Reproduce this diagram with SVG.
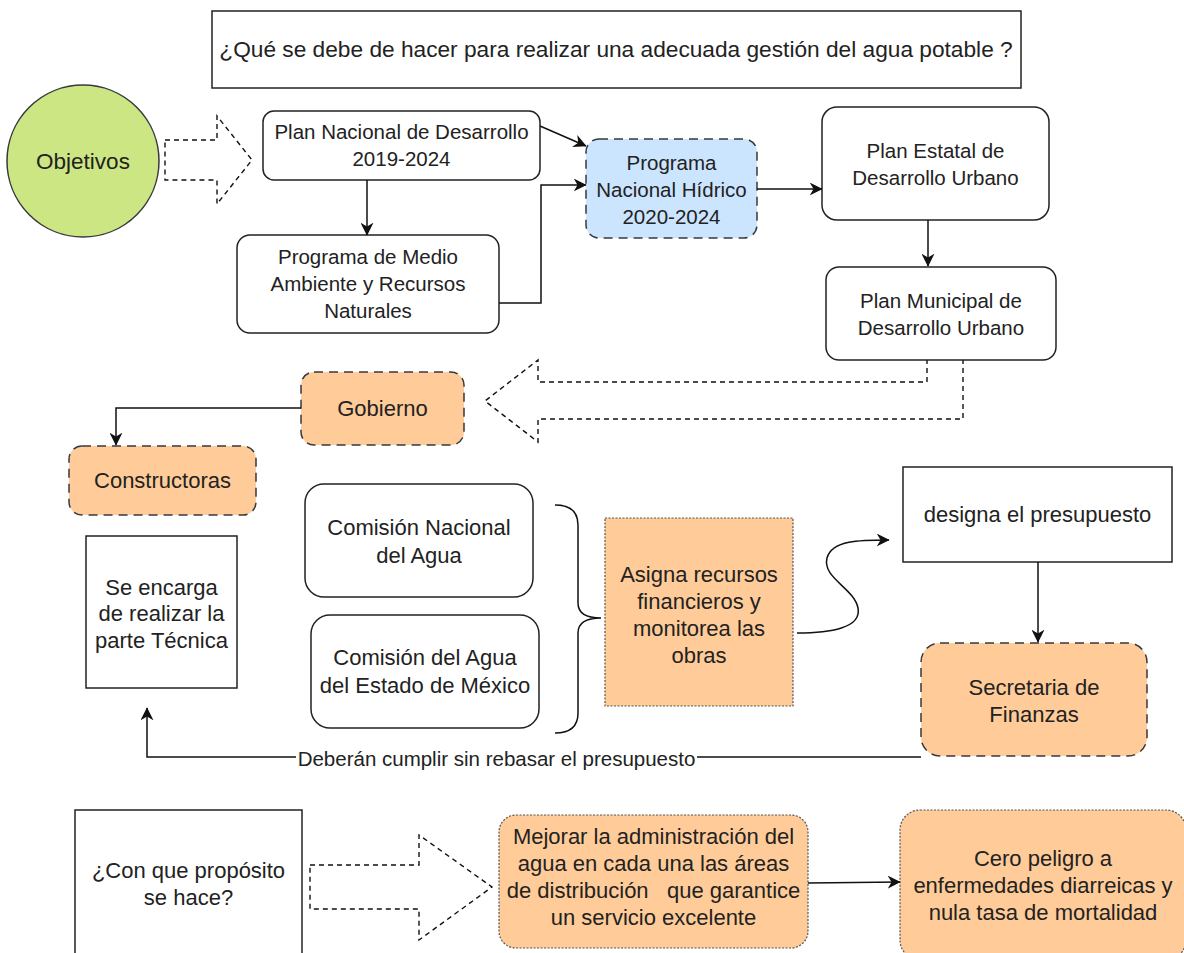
<svg xmlns="http://www.w3.org/2000/svg" width="1184" height="953" viewBox="0 0 1184 953">
<style>
text{font-family:"Liberation Sans",Arial,sans-serif;fill:#222;text-anchor:middle}
.f20{font-size:20.5px}
.f22{font-size:22px}
.box{fill:#fff;stroke:#222;stroke-width:1.5}
.org{fill:#ffcc99;stroke:#36393d;stroke-width:1.5;stroke-dasharray:9 6}
.blu{fill:#cce5ff;stroke:#36393d;stroke-width:1.5;stroke-dasharray:9 6}
.dot{fill:#ffcc99;stroke:#555;stroke-width:1.2;stroke-dasharray:2 1.5}
.blk{fill:#fff;stroke:#111;stroke-width:1.4;stroke-dasharray:5 4}
.con{fill:none;stroke:#111;stroke-width:1.5}
</style>
<defs>
<marker id="ah" viewBox="0 0 10 10" markerWidth="13" markerHeight="13" refX="9.5" refY="5" orient="auto" markerUnits="userSpaceOnUse">
<path d="M0,0 L10,5 L0,10 L3,5 z" fill="#111"/>
</marker>
</defs>
<rect width="1184" height="953" fill="#fff"/>

<g id="title">
<rect class="box" x="212" y="11" width="809" height="77"/>
<text x="616" y="57" font-size="22.7">¿Qué se debe de hacer para realizar una adecuada gestión del agua potable ?</text>
</g>

<g id="objetivos">
<circle cx="83" cy="161" r="76" fill="#cde684" stroke="#36393d" stroke-width="1.5"/>
<text x="83" y="169" font-size="22.5">Objetivos</text>
</g>

<g id="arrow-objetivos">
<polygon class="blk" points="165,140 217,140 217,116 252,160 217,204 217,180 165,180"/>
</g>

<g id="plan-nacional">
<rect class="box" x="263" y="111" width="277" height="69" rx="11"/>
<text class="f20" x="401.5" y="139">Plan Nacional de Desarrollo</text>
<text class="f20" x="401.5" y="166">2019-2024</text>
</g>

<g id="medio-ambiente">
<rect class="box" x="237" y="235" width="262" height="98" rx="13"/>
<text class="f20" x="368" y="264">Programa de Medio</text>
<text class="f20" x="368" y="291">Ambiente y Recursos</text>
<text class="f20" x="368" y="318">Naturales</text>
</g>

<g id="hidrico">
<rect class="blu" x="586" y="139" width="171" height="99" rx="13"/>
<text class="f20" x="671.5" y="170">Programa</text>
<text class="f20" x="671.5" y="197">Nacional Hídrico</text>
<text class="f20" x="671.5" y="224">2020-2024</text>
</g>

<g id="estatal">
<rect class="box" x="822" y="107" width="227" height="113" rx="15"/>
<text class="f20" x="935.5" y="158">Plan Estatal de</text>
<text class="f20" x="935.5" y="185">Desarrollo Urbano</text>
</g>

<g id="big-arrow">
<path class="blk" d="M927,359 V382 H538 V360 L485,401 L538,442 V419 H963 V359"/>
</g>

<g id="municipal">
<rect class="box" x="826" y="267" width="230" height="93" rx="13"/>
<text class="f20" x="941" y="308">Plan Municipal de</text>
<text class="f20" x="941" y="335">Desarrollo Urbano</text>
</g>

<g id="gobierno">
<rect class="org" x="301" y="372" width="163" height="73" rx="13"/>
<text class="f22" x="382.5" y="416">Gobierno</text>
</g>

<g id="constructoras">
<rect class="org" x="69" y="446" width="187" height="69" rx="13"/>
<text class="f22" x="162.5" y="488">Constructoras</text>
</g>

<g id="tecnica">
<rect class="box" x="86" y="536" width="151" height="152"/>
<text class="f22" x="161.5" y="595">Se encarga</text>
<text class="f22" x="161.5" y="621">de realizar la</text>
<text class="f22" x="161.5" y="648">parte Técnica</text>
</g>

<g id="conagua">
<rect class="box" x="305" y="484" width="228" height="113" rx="19"/>
<text class="f22" x="419" y="535">Comisión Nacional</text>
<text class="f22" x="419" y="563">del Agua</text>
</g>

<g id="caem">
<rect class="box" x="311" y="615" width="228" height="113" rx="19"/>
<text class="f22" x="425" y="665">Comisión del Agua</text>
<text class="f22" x="425" y="693">del Estado de México</text>
</g>

<g id="brace">
<path class="con" d="M555,505 Q578,505 578,525 V603 Q578,618 601,618 Q578,618 578,633 V713 Q578,733 555,733"/>
</g>

<g id="asigna">
<rect class="dot" x="605" y="518" width="188" height="188"/>
<text class="f22" x="699" y="582">Asigna recursos</text>
<text class="f22" x="699" y="609">financieros y</text>
<text class="f22" x="699" y="636">monitorea las</text>
<text class="f22" x="699" y="663">obras</text>
</g>

<g id="designa">
<rect class="box" x="903" y="467" width="269" height="95"/>
<text class="f22" x="1037.5" y="522">designa el presupuesto</text>
</g>

<g id="secretaria">
<rect class="org" x="921" y="643" width="226" height="113" rx="19"/>
<text class="f22" x="1034" y="695">Secretaria de</text>
<text class="f22" x="1034" y="722">Finanzas</text>
</g>

<g id="proposito">
<rect class="box" x="75" y="810" width="227" height="160"/>
<text class="f22" x="188.5" y="878">¿Con que propósito</text>
<text class="f22" x="188.5" y="905">se hace?</text>
</g>

<g id="arrow-proposito">
<polygon class="blk" points="310,865 419,865 419,835 492,887 419,940 419,909 310,909"/>
</g>

<g id="mejorar">
<rect class="dot" x="499" y="815" width="309" height="133" rx="17"/>
<text class="f22" x="653.5" y="844">Mejorar la administración del</text>
<text class="f22" x="653.5" y="871">agua en cada una las áreas</text>
<text class="f22" x="653.5" y="898" style="white-space:pre">de distribución   que garantice</text>
<text class="f22" x="653.5" y="925">un servicio excelente</text>
</g>

<g id="cero">
<rect class="dot" x="900" y="810" width="286" height="150" rx="20"/>
<text class="f22" x="1043" y="866">Cero peligro a</text>
<text class="f22" x="1043" y="893">enfermedades diarreicas y</text>
<text class="f22" x="1043" y="920">nula tasa de mortalidad</text>
</g>

<g id="connectors">
<path class="con" d="M367,180 V235" marker-end="url(#ah)"/>
<path class="con" d="M540,126 L586,146" marker-end="url(#ah)"/>
<path class="con" d="M499,303 H541 V185 H586" marker-end="url(#ah)"/>
<path class="con" d="M757,189 H822" marker-end="url(#ah)"/>
<path class="con" d="M928,220 V266" marker-end="url(#ah)"/>
<path class="con" d="M301,408 H116 V445" marker-end="url(#ah)"/>
<path class="con" d="M797,633 C830,633 862,628 858,608 C854,588 822,578 827,558 C832,540 860,540 889,540" marker-end="url(#ah)"/>
<path class="con" d="M1038,562 V642" marker-end="url(#ah)"/>
<path class="con" d="M921,757 H147 V708" marker-end="url(#ah)"/>
<path class="con" d="M808,883 L900,882" marker-end="url(#ah)"/>
<rect x="296" y="749" width="401" height="20" fill="#fff"/>
<text x="496.5" y="766" font-size="20.5">Deberán cumplir sin rebasar el presupuesto</text>
</g>
</svg>
